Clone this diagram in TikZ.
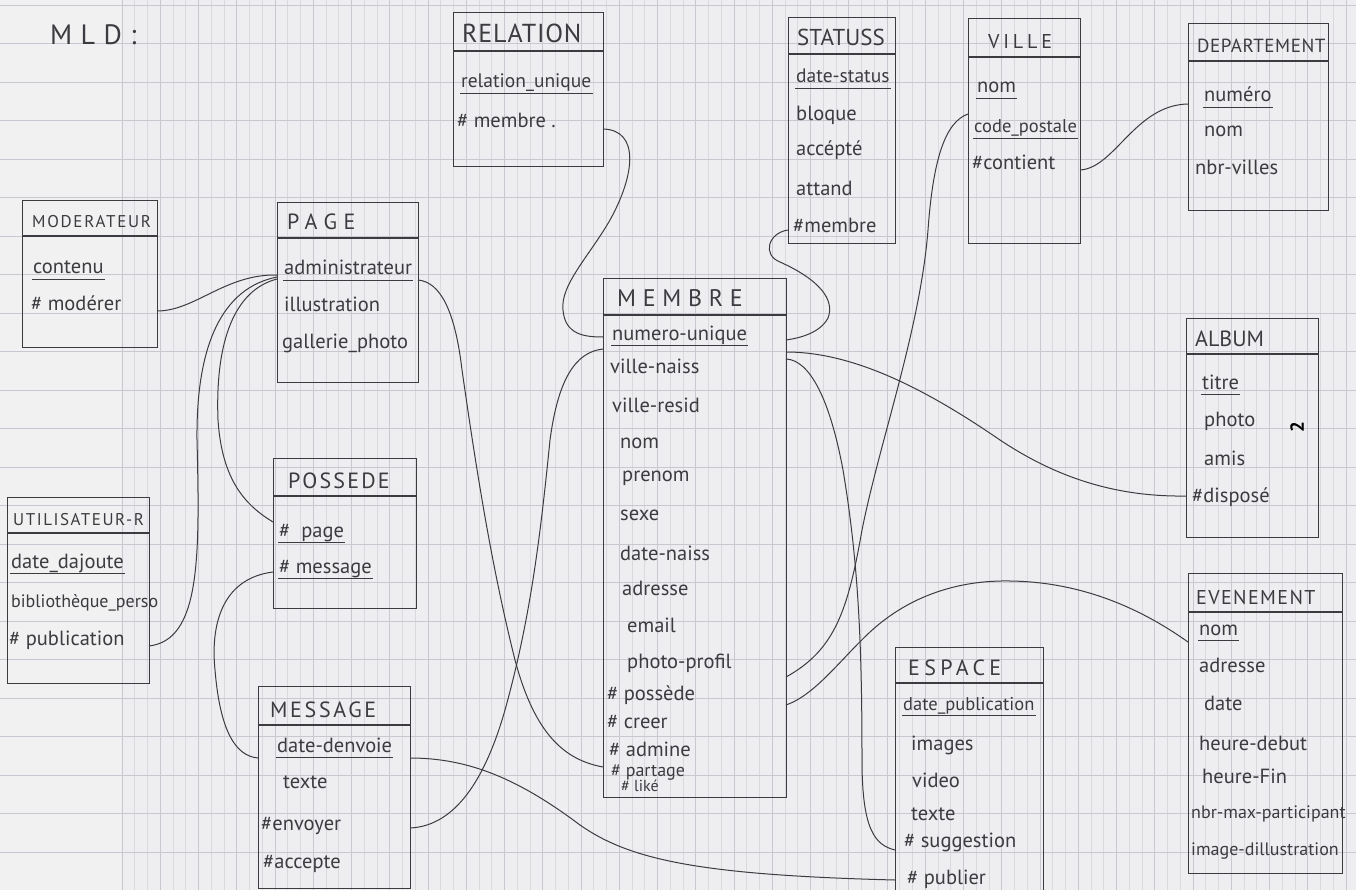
\documentclass[tikz,border=0pt]{standalone}
\usepackage{fontspec}
\setmainfont{PT Sans}
\definecolor{paper}{HTML}{EEEEF1}
\definecolor{margin}{HTML}{F1F1F2}
\definecolor{gridlight}{HTML}{D9D9DF}
\definecolor{griddark}{HTML}{C8C8D0}
\definecolor{ink}{HTML}{3C3C40}
\newcommand\af{\fontsize{20.5}{21}\selectfont}
\newcommand\afsmall{\fontsize{18}{19}\selectfont}
\newcommand\ttl[3]{{\fontsize{#1}{#1}\selectfont\addfontfeature{LetterSpace=#2}#3}}
\tikzset{
  pen/.style={draw=ink, line width=1.1pt},
  wire/.style={draw=ink, line width=1pt},
  box/.style={draw=ink, line width=1.1pt, rectangle, inner sep=0pt},
  ttlnode/.style={anchor=base west, inner sep=0pt, text=ink},
  attr/.style={anchor=base west, inner sep=1pt, text=ink, font=\af},
}
% one entity table: name, left, top, right, bottom, header rule, title x, title
\newcommand\entity[8]{%
  \node[box, minimum width={#4-#2}, minimum height={#5-#3}, anchor=north west] (#1) at (#2,#3) {};
  \draw[pen] (#2,#6) -- (#4,#6);
  \node[ttlnode] (#1-title) at (#7,#6-8) {#8};
}
\newcommand\ul[1]{\draw[pen, line width=0.9pt] ([yshift=-5pt]#1.base west) -- ([yshift=-5pt]#1.base east);}
\begin{document}
\begin{tikzpicture}[x=1pt,y=-1pt]
\useasboundingbox (0,0) rectangle (1356,890);
\clip (0,0) rectangle (1356,890);
% squared paper
\fill[paper] (0,0) rectangle (1356,890);
\fill[margin] (0,0) rectangle (121,890);
\foreach \i in {0,...,97} {
  \draw[gridlight, line width=0.6pt] (122+\i*12.75,0) -- (122+\i*12.75,890);
}
\foreach \i in {0,...,32} {
  \draw[griddark, line width=0.8pt] (122+\i*38.25,0) -- (122+\i*38.25,890);
}
\foreach \j in {0,...,23} {
  \draw[griddark, line width=0.8pt] (0,5+\j*38.5) -- (1356,5+\j*38.5);
}

\node[ttlnode] (mld) at (50,45) {\ttl{28}{30}{MLD:}};

% MODERATEUR
\entity{mod}{22}{200}{157}{347}{236}{32}{\ttl{17}{10}{MODERATEUR}}
\node[attr] (mod1) at (32,274) {contenu}; \ul{mod1}
\node[attr] (mod2) at (30,311) {\# modérer};

% PAGE
\entity{page}{277}{202}{418}{382}{238}{287}{\ttl{22}{30}{PAGE}}
\node[attr] (pg1) at (283,275) {administrateur}; \ul{pg1}
\node[attr] (pg2) at (283,312) {illustration};
\node[attr] (pg3) at (281,348) {gallerie\_photo};

% RELATION
\entity{rel}{453}{12}{603}{166}{51}{462}{\ttl{26}{3}{RELATION}}
\node[attr, font=\fontsize{19.5}{20}\selectfont] (rl1) at (460,88) {relation\_unique}; \ul{rl1}
\node[attr] (rl2) at (456,128) {\# membre .};

% STATUSS
\entity{sta}{788}{17}{895}{243}{54}{797}{\ttl{23}{0}{STATUSS}}
\node[attr, font=\fontsize{19.5}{20}\selectfont] (st1) at (795,83) {date-status}; \ul{st1}
\node[attr] (st2) at (795,121) {bloque};
\node[attr] (st3) at (795,156) {accépté};
\node[attr] (st4) at (795,196) {attand};
\node[attr] (st5) at (792,233) {\#membre};

% VILLE
\entity{vil}{968}{18}{1080}{243}{57}{988}{\ttl{20}{19}{VILLE}}
\node[attr] (vi1) at (976,93) {nom}; \ul{vi1}
\node[attr, font=\fontsize{18.5}{19}\selectfont] (vi2) at (973,133) {code\_postale}; \ul{vi2}
\node[attr] (vi3) at (971,170) {\#contient};

% DEPARTEMENT
\entity{dep}{1188}{23}{1328}{210}{61}{1197}{\ttl{19}{3}{DEPARTEMENT}}
\node[attr] (dp1) at (1203,102) {numéro}; \ul{dp1}
\node[attr] (dp2) at (1203,137) {nom};
\node[attr] (dp3) at (1194,175) {nbr-villes};

% MEMBRE
\entity{mem}{603}{278}{786}{797}{315}{617}{\ttl{24}{28}{MEMBRE}}
\node[attr] (me1) at (611,340) {numero-unique}; \ul{me1}
\node[attr] (me2) at (609,373) {ville-naiss};
\node[attr] (me3) at (611,412) {ville-resid};
\node[attr] (me4) at (619,448) {nom};
\node[attr] (me5) at (621,481) {prenom};
\node[attr] (me6) at (619,520) {sexe};
\node[attr] (me7) at (619,560) {date-naiss};
\node[attr] (me8) at (621,595) {adresse};
\node[attr] (me9) at (626,632) {email};
\node[attr] (me10) at (626,668) {photo-profil};
\node[attr] (me11) at (606,700) {\# possède};
\node[attr] (me12) at (606,728) {\# creer};
\node[attr] (me13) at (608,756) {\# admine};
\node[attr, font=\fontsize{18}{18}\selectfont] (me14) at (610,776) {\# partage};
\node[attr, font=\fontsize{16}{16}\selectfont] (me15) at (620,791) {\# liké};

% ALBUM
\entity{alb}{1186}{318}{1318}{537}{354}{1195}{\ttl{22}{0}{ALBUM}}
\node[attr] (al1) at (1201,389) {titre}; \ul{al1}
\node[attr] (al2) at (1203,426) {photo};
\node[attr] (al3) at (1203,465) {amis};
\node[attr] (al4) at (1191,502) {\#disposé};
\node[rotate=90, inner sep=0pt, text=black] (num) at (1297,427) {\fontsize{19}{19}\selectfont\bfseries 2};

% UTILISATEUR-R
\entity{uti}{7}{497}{149}{683}{533}{13}{\ttl{17}{9}{UTILISATEUR-R}}
\node[attr] (ut1) at (10,568) {date\_dajoute}; \ul{ut1}
\node[attr, font=\afsmall] (ut2) at (10,607) {bibliothèque\_perso};
\node[attr] (ut3) at (8,645) {\# publication};

% POSSEDE
\entity{pos}{273}{458}{416}{608}{496}{288}{\ttl{22}{10}{POSSEDE}}
\node[attr] (po1) at (278,537) {\#\ \ page}; \ul{po1}
\node[attr] (po2) at (278,573) {\# message}; \ul{po2}

% MESSAGE
\entity{msg}{258}{686}{410}{888}{725}{270}{\ttl{22}{12}{MESSAGE}}
\node[attr] (ms1) at (276,752) {date-denvoie}; \ul{ms1}
\node[attr] (ms2) at (282,788) {texte};
\node[attr] (ms3) at (260,830) {\#envoyer};
\node[attr] (ms4) at (262,868) {\#accepte};

% ESPACE
\entity{esp}{895}{647}{1043}{900}{683}{908}{\ttl{22}{20}{ESPACE}}
\node[attr, font=\fontsize{18.5}{19}\selectfont] (es1) at (902,710) {date\_publication}; \ul{es1}
\node[attr] (es2) at (910,750) {images};
\node[attr] (es3) at (911,787) {video};
\node[attr] (es4) at (910,820) {texte};
\node[attr] (es5) at (903,847) {\# suggestion};
\node[attr] (es6) at (906,884) {\# publier};

% EVENEMENT
\entity{eve}{1188}{573}{1342}{873}{612}{1196}{\ttl{20}{7}{EVENEMENT}}
\node[attr] (ev1) at (1198,635) {nom}; \ul{ev1}
\node[attr] (ev2) at (1198,672) {adresse};
\node[attr] (ev3) at (1203,710) {date};
\node[attr] (ev4) at (1198,750) {heure-debut};
\node[attr] (ev5) at (1201,783) {heure-Fin};
\node[attr, font=\afsmall] (ev6) at (1190,818) {nbr-max-participant};
\node[attr, font=\afsmall] (ev7) at (1190,855) {image-dillustration};

% link ends on the table edges
\coordinate (c-mod) at (157,311);
\coordinate (c-pg-a) at (277,275);
\coordinate (c-pg-b) at (277,277);
\coordinate (c-pg-c) at (277,279);
\coordinate (c-pg-r) at (418,280);
\coordinate (c-ut) at (149,646);
\coordinate (c-po-p) at (273,522);
\coordinate (c-po-m) at (273,572);
\coordinate (c-ms-l) at (258,758);
\coordinate (c-ms-r1) at (410,758);
\coordinate (c-ms-r2) at (410,828);
\coordinate (c-rel) at (603,129);
\coordinate (c-sta) at (788,230);
\coordinate (c-vil-l) at (968,114);
\coordinate (c-vil-r) at (1080,170);
\coordinate (c-dep) at (1188,104);
\coordinate (c-me-l1) at (603,337);
\coordinate (c-me-r1) at (786,340);
\coordinate (c-me-l2) at (603,349);
\coordinate (c-me-r2) at (786,352);
\coordinate (c-me-r3) at (786,359);
\coordinate (c-me-r4) at (786,677);
\coordinate (c-me-r5) at (786,705);
\coordinate (c-me-l3) at (603,767);
\coordinate (c-alb) at (1186,496);
\coordinate (c-esp-s) at (895,850);
\coordinate (c-esp-p) at (895,880);
\coordinate (c-eve) at (1188,642);

% links
\draw[wire] (c-mod) .. controls (195,311) and (225,274) .. (c-pg-a);
\draw[wire] (c-pg-b) .. controls (222,288) and (196,345) .. (197,440)
  .. controls (200,560) and (200,640) .. (c-ut);
\draw[wire] (c-pg-c) .. controls (235,290) and (215,340) .. (218,420)
  .. controls (222,480) and (245,505) .. (c-po-p);
\draw[wire] (c-po-m) .. controls (225,578) and (210,620) .. (215,670)
  .. controls (220,730) and (235,756) .. (c-ms-l);
\draw[wire] (c-rel) .. controls (640,130) and (635,175) .. (610,220)
  .. controls (590,255) and (560,285) .. (563,310)
  .. controls (565,335) and (585,337) .. (c-me-l1);
\draw[wire] (c-sta) .. controls (768,233) and (762,255) .. (780,262)
  .. controls (820,280) and (835,300) .. (828,318)
  .. controls (820,333) and (800,338) .. (c-me-r1);
\draw[wire] (c-vil-l) .. controls (945,122) and (933,160) .. (928,230)
  .. controls (920,330) and (880,440) .. (862,530)
  .. controls (848,610) and (835,650) .. (c-me-r4);
\draw[wire] (c-vil-r) .. controls (1115,168) and (1135,105) .. (c-dep);
\draw[wire] (c-me-r2) .. controls (850,352) and (920,385) .. (1000,440)
  .. controls (1060,480) and (1120,497) .. (c-alb);
\draw[wire] (c-me-r3) .. controls (810,360) and (830,400) .. (843,470)
  .. controls (858,560) and (862,640) .. (862,760)
  .. controls (862,830) and (875,845) .. (c-esp-s);
\draw[wire] (c-me-l2) .. controls (575,352) and (558,380) .. (550,440)
  .. controls (540,540) and (530,620) .. (505,710)
  .. controls (485,780) and (455,826) .. (c-ms-r2);
\draw[wire] (c-pg-r) .. controls (440,282) and (455,310) .. (462,370)
  .. controls (475,460) and (490,560) .. (515,660)
  .. controls (535,735) and (565,760) .. (c-me-l3);
\draw[wire] (c-ms-r1) .. controls (470,758) and (520,780) .. (580,825)
  .. controls (630,860) and (700,875) .. (c-esp-p);
\draw[wire] (c-me-r5) .. controls (815,695) and (840,660) .. (870,632)
  .. controls (910,595) and (960,580) .. (1010,581)
  .. controls (1090,582) and (1150,615) .. (c-eve);
\end{tikzpicture}
\end{document}
